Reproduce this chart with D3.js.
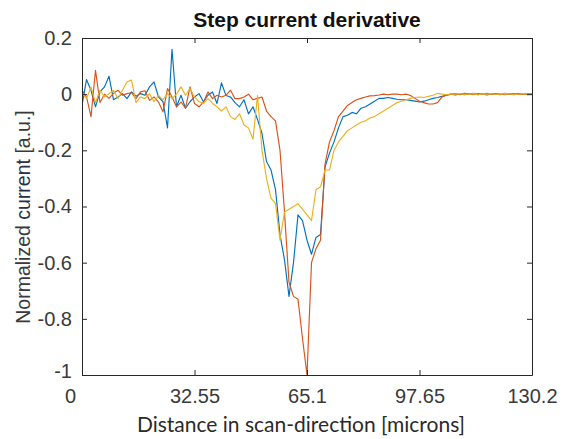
<!DOCTYPE html>
<html>
<head>
<meta charset="utf-8">
<script src="https://cdn.jsdelivr.net/npm/d3@7"></script>
<style>
  body { margin: 0; background: #fff; }
  svg { display: block; }
</style>
</head>
<body>
<svg id="chart" width="566" height="439"></svg>
<script>
// Sampling grid along the scan (microns between samples)
const sampleStep = 1.302;

const xTicks = [0, 32.55, 65.1, 97.65, 130.2];
const xTickLabels = ["0", "32.55", "65.1", "97.65", "130.2"];
const yTicks = [0.2, 0, -0.2, -0.4, -0.6, -0.8, -1];
const yTickLabels = ["0.2", "0", "-0.2", "-0.4", "-0.6", "-0.8", "-1"];

// Normalized derivative of the step current, one array per scan
const scanBlue = [
  -0.04, 0.052, 0.014, -0.045, 0.008, 0.026, 0.064, -0.02, -0.01, 0.002,
  -0.016, 0.008, -0.007, 0.002, -0.004, 0.026, 0.044, -0.01, -0.027, -0.12,
  0.16, -0.045, -0.004, -0.05, -0.027, -0.01, 0.002, -0.027, -0.004, 0.008,
  -0.033, 0.04, -0.005, -0.01, -0.03, -0.045, -0.02, -0.07, -0.045, -0.09,
  -0.14, -0.24, -0.27, -0.34, -0.5, -0.59, -0.72, -0.6, -0.43, -0.45,
  -0.52, -0.57, -0.51, -0.5, -0.26, -0.21, -0.17, -0.12, -0.08, -0.075,
  -0.065, -0.07, -0.05, -0.045, -0.035, -0.025, -0.015, -0.015, -0.012, -0.015,
  -0.018, -0.02, -0.02, -0.022, -0.025, -0.028, -0.025, -0.02, -0.015, -0.012,
  -0.008, -0.004, 0.0, -0.003, 0.002, -0.002, 0.0, 0.003, -0.002, 0.001,
  -0.003, 0.002, 0.0, -0.002, 0.003, 0.0, -0.002, 0.002, 0.0, -0.001,
  0.002
];
const scanOrange = [
  0.014, -0.01, -0.08, 0.085, -0.03, 0.0, -0.015, 0.003, 0.014, -0.004,
  0.002, 0.005, -0.016, 0.008, 0.012, -0.022, -0.01, -0.028, -0.063, 0.02,
  -0.01, -0.045, -0.028, -0.05, 0.026, -0.033, -0.045, -0.028, 0.008, -0.016,
  -0.004, -0.01, -0.004, 0.014, -0.016, -0.016, -0.01, 0.0, -0.02, -0.015,
  -0.01, -0.06, -0.08, -0.095, -0.2, -0.42, -0.67, -0.72, -0.73, -0.87,
  -1.0, -0.6, -0.55, -0.52, -0.25, -0.17, -0.13, -0.08, -0.06, -0.04,
  -0.03, -0.02, -0.015, -0.01, -0.006, -0.005, -0.003, 0.0, -0.002, 0.0,
  0.0, -0.002, 0.0, -0.005, -0.015, -0.025, -0.03, -0.035, -0.035, -0.03,
  -0.01, -0.004, 0.0, 0.002, -0.002, 0.003, 0.001, -0.002, 0.002, 0.0,
  0.003, -0.001, 0.002, 0.0, -0.002, 0.001, 0.002, 0.0, -0.001, 0.002,
  0.001
];
const scanYellow = [
  0.002, -0.015, 0.025, -0.03, 0.014, -0.01, 0.002, 0.014, -0.016, 0.014,
  0.044, 0.05, -0.03, -0.01, -0.016, 0.002, -0.027, -0.004, -0.02, 0.002,
  -0.016, 0.0, 0.026, -0.004, 0.02, -0.01, -0.027, -0.033, -0.016, -0.033,
  -0.045, -0.06, -0.045, -0.08, -0.09, -0.07, -0.11, -0.12, -0.16, -0.005,
  -0.2, -0.3, -0.37, -0.39, -0.52, -0.42, -0.41, -0.4, -0.39, -0.41,
  -0.43, -0.45, -0.34, -0.33, -0.27, -0.27, -0.2, -0.17, -0.15, -0.13,
  -0.12, -0.11, -0.1, -0.095, -0.085, -0.08, -0.07, -0.06, -0.05, -0.04,
  -0.03, -0.025, -0.02, -0.015, -0.012, -0.01, -0.012, -0.008, -0.004, 0.003,
  0.0, -0.002, 0.001, 0.0, 0.002, -0.001, 0.0, 0.002, -0.002, 0.001,
  0.0, 0.002, -0.001, 0.0, 0.002, 0.001, -0.001, 0.0, 0.002, 0.0,
  0.001
];

const seriesList = [
  { values: scanBlue,   color: "#0072BD" },
  { values: scanOrange, color: "#D95319" },
  { values: scanYellow, color: "#EDB120" }
];

const svg = d3.select("#chart");
const plot = { left: 82, right: 532, top: 38, bottom: 375 };
const axisColor = "#262626";

const x = d3.scaleLinear().domain([0, 130.2]).range([plot.left, plot.right]);
const y = d3.scaleLinear().domain([-1, 0.2]).range([plot.bottom, plot.top]);

// Curves (clipped to the axes box)
svg.append("clipPath").attr("id", "plotClip")
  .append("rect")
  .attr("x", plot.left).attr("y", plot.top - 1)
  .attr("width", plot.right - plot.left).attr("height", plot.bottom - plot.top + 2);

const line = d3.line()
  .x((d, i) => x(i * sampleStep))
  .y(d => y(d));

const curves = svg.append("g").attr("clip-path", "url(#plotClip)");
seriesList.forEach(s => {
  curves.append("path")
    .datum(s.values)
    .attr("fill", "none")
    .attr("stroke", s.color)
    .attr("stroke-width", 1.15)
    .attr("stroke-linejoin", "round")
    .attr("d", line);
});

// Axes with inward ticks on all four sides
const tickFont = "'Liberation Sans', Arial, sans-serif";

const bottomAxis = svg.append("g")
  .attr("transform", `translate(0,${plot.bottom})`)
  .call(d3.axisBottom(x).tickValues(xTicks).tickSize(-5).tickSizeOuter(0)
    .tickPadding(14).tickFormat((d, i) => xTickLabels[i]));
const topAxis = svg.append("g")
  .attr("transform", `translate(0,${plot.top})`)
  .call(d3.axisTop(x).tickValues(xTicks).tickSize(-5).tickSizeOuter(0).tickFormat(""));
const leftAxis = svg.append("g")
  .attr("transform", `translate(${plot.left},0)`)
  .call(d3.axisLeft(y).tickValues(yTicks).tickSize(-5).tickSizeOuter(0)
    .tickPadding(10).tickFormat((d, i) => yTickLabels[i]));
const rightAxis = svg.append("g")
  .attr("transform", `translate(${plot.right},0)`)
  .call(d3.axisRight(y).tickValues(yTicks).tickSize(-5).tickSizeOuter(0).tickFormat(""));

[bottomAxis, topAxis, leftAxis, rightAxis].forEach(g => {
  g.select(".domain").attr("stroke", axisColor).attr("stroke-width", 1);
  g.selectAll(".tick line").attr("stroke", axisColor).attr("stroke-width", 1);
  g.selectAll(".tick text")
    .attr("fill", "#3a3a3a")
    .style("font-family", tickFont)
    .style("font-size", "20px");
});

// The "0" and "-1" labels sit just off the shared corner
bottomAxis.selectAll(".tick text").filter((d, i) => i === 0).attr("x", -12);
leftAxis.selectAll(".tick text").filter((d, i) => i === yTicks.length - 1).attr("y", -4);

// Title
svg.append("text")
  .attr("x", (plot.left + plot.right) / 2)
  .attr("y", 27)
  .attr("text-anchor", "middle")
  .style("font-family", tickFont)
  .style("font-size", "21px")
  .style("font-weight", "bold")
  .attr("fill", "#111")
  .text("Step current derivative");

// Axis titles
svg.append("text")
  .attr("x", 301)
  .attr("y", 432)
  .attr("text-anchor", "middle")
  .style("font-family", "Lato, 'Open Sans', sans-serif")
  .style("font-size", "21px")
  .attr("fill", "#2a2a2a")
  .text("Distance in scan-direction [microns]");

const yTitle = svg.append("text")
  .attr("transform", "translate(30,217) rotate(-90)")
  .attr("text-anchor", "middle")
  .style("font-family", "'Liberation Sans', Arial, sans-serif")
  .style("font-size", "19.5px")
  .attr("fill", "#3a3a3a");
yTitle.append("tspan").text("Normalized ");
yTitle.append("tspan").attr("fill", "#2b2f4a").text("current");
yTitle.append("tspan").text(" [a.u.]");
</script>
</body>
</html>
